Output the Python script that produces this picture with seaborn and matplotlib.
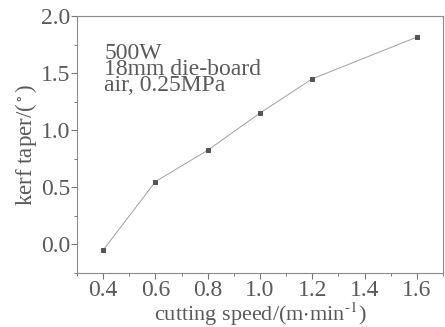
import numpy as np
import pandas as pd
import matplotlib
matplotlib.use("Agg")
import matplotlib.pyplot as plt
import seaborn as sns
from matplotlib.ticker import MultipleLocator

speed = [0.4, 0.6, 0.8, 1.0, 1.2, 1.6]
taper = [-0.05, 0.55, 0.825, 1.15, 1.45, 1.815]
notes = ["500W", "18mm die-board", "air, 0.25MPa"]
xticks = [0.4, 0.6, 0.8, 1.0, 1.2, 1.4, 1.6]

df = pd.DataFrame({"speed": speed, "taper": taper})

sns.set_style("ticks")
plt.rcParams["font.family"] = ["Liberation Serif", "DejaVu Serif"]
plt.rcParams["mathtext.fontset"] = "stix"
txt = "#5a5a5a"

fig = plt.figure(figsize=(4.45, 3.27), dpi=100)
ax = fig.add_axes([77 / 445, 1 - 273 / 327, 366 / 445, 257 / 327])

sns.lineplot(data=df, x="speed", y="taper", ax=ax, color="#a0a0a0", lw=0.7,
             marker="s", markersize=3.2, markerfacecolor="#555555",
             markeredgecolor="#555555")

ax.set_xlim(0.30, 1.70)
ax.set_ylim(-0.25, 2.0)
ax.xaxis.set_minor_locator(MultipleLocator(0.1))
ax.yaxis.set_major_locator(MultipleLocator(0.5))
ax.yaxis.set_minor_locator(MultipleLocator(0.25))
ax.set_xticks(xticks)
ax.set_xticklabels([f"{v:.1f}" for v in xticks])

for s in ax.spines.values():
    s.set_color("#8a8a8a")
    s.set_linewidth(0.8)
ax.tick_params(which="major", direction="out", length=4, width=0.8,
               color="#777777", labelcolor=txt, labelsize=17, pad=1)
ax.tick_params(which="minor", direction="out", length=2.5, width=0.7,
               color="#777777")

ax.set_xlabel("cutting speed/(m$\\cdot$min$^{\\text{-1}}$)", fontsize=16,
              color=txt, labelpad=0)
ax.set_ylabel("kerf taper/($^\\circ$)", fontsize=16.5, color=txt, labelpad=1)

ax.text(0.075, 0.895, "\n".join(notes), transform=ax.transAxes, fontsize=17,
        color=txt, va="top", ha="left", linespacing=0.68)

fig.savefig("out.png", dpi=100)
